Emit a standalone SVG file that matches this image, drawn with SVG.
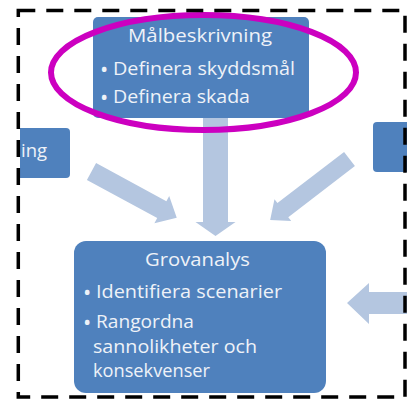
<svg xmlns="http://www.w3.org/2000/svg" width="407" height="401" viewBox="0 0 407 401">
  <style>
    .box { fill: #4F81BD; }
    .arrow { fill: #B4C6E0; }
    .t { font-family: "Open Sans", "Liberation Sans", sans-serif; font-size: 18px; fill: #EEF2F8; }
    .b { font-family: "Open Sans", "Liberation Sans", sans-serif; font-size: 22px; fill: #EEF2F8; }
    .frame { fill: none; stroke: #000; stroke-width: 3.5; stroke-dasharray: 17 11; }
    .hl { fill: none; stroke: #CC00C0; stroke-width: 6; }
  </style>
  <rect width="407" height="401" fill="#FFFFFF"/>

  <g id="connectors">
    <polygon class="arrow" points="0,-9.6 80,-9.6 80,-15.5 97,0 80,15.5 80,9.6 0,9.6" transform="translate(91.5,171.5) rotate(28.5)"/>
    <polygon class="arrow" points="0,-8.9 84,-8.9 84,-13.8 100,0 84,13.8 84,8.9 0,8.9" transform="translate(349.5,159) rotate(142.5)"/>
    <polygon class="arrow" points="203,112 228,112 228,222 235.5,222 215.5,236 195.5,222 203,222"/>
    <polygon class="arrow" points="410,292 369,292 369,283 347,303 369,324 369,314 410,314"/>
  </g>

  <g id="node-left">
    <path class="box" d="M20,128 H66 A4,4 0 0 1 70,132 V174 A4,4 0 0 1 66,178 H20 Z"/>
    <text class="t" x="21" y="157" textLength="26" lengthAdjust="spacingAndGlyphs">ing</text>
  </g>

  <g id="node-right">
    <path class="box" d="M410,122 H377 A4,4 0 0 0 373,126 V168 A4,4 0 0 0 377,172 H410 Z"/>
  </g>

  <g id="node-malbeskrivning">
    <rect class="box" x="93" y="17" width="216" height="101" rx="5" ry="5"/>
    <text class="t" x="128" y="42" textLength="144" lengthAdjust="spacingAndGlyphs">Målbeskrivning</text>
    <text class="b" x="100" y="77">•</text>
    <text class="t" x="113" y="75" textLength="182" lengthAdjust="spacingAndGlyphs">Definera skyddsmål</text>
    <text class="b" x="100" y="105">•</text>
    <text class="t" x="113" y="103" textLength="137" lengthAdjust="spacingAndGlyphs">Definera skada</text>
  </g>

  <g id="node-grovanalys">
    <rect class="box" x="74" y="241" width="252" height="152" rx="12" ry="12"/>
    <text class="t" x="145" y="266" textLength="105" lengthAdjust="spacingAndGlyphs">Grovanalys</text>
    <text class="b" x="83" y="300">•</text>
    <text class="t" x="96" y="298" textLength="186" lengthAdjust="spacingAndGlyphs">Identifiera scenarier</text>
    <text class="b" x="83" y="330">•</text>
    <text class="t" x="96" y="328" textLength="98" lengthAdjust="spacingAndGlyphs">Rangordna</text>
    <text class="t" x="93" y="353" textLength="164" lengthAdjust="spacingAndGlyphs">sannolikheter och</text>
    <text class="t" x="93" y="377" textLength="117" lengthAdjust="spacingAndGlyphs">konsekvenser</text>
  </g>

  <g id="highlight">
    <ellipse class="hl" cx="203.5" cy="72.5" rx="152.5" ry="57.5"/>
  </g>

  <g id="frame">
    <rect class="frame" x="18.3" y="10.5" width="386.7" height="386.5"/>
  </g>
</svg>
